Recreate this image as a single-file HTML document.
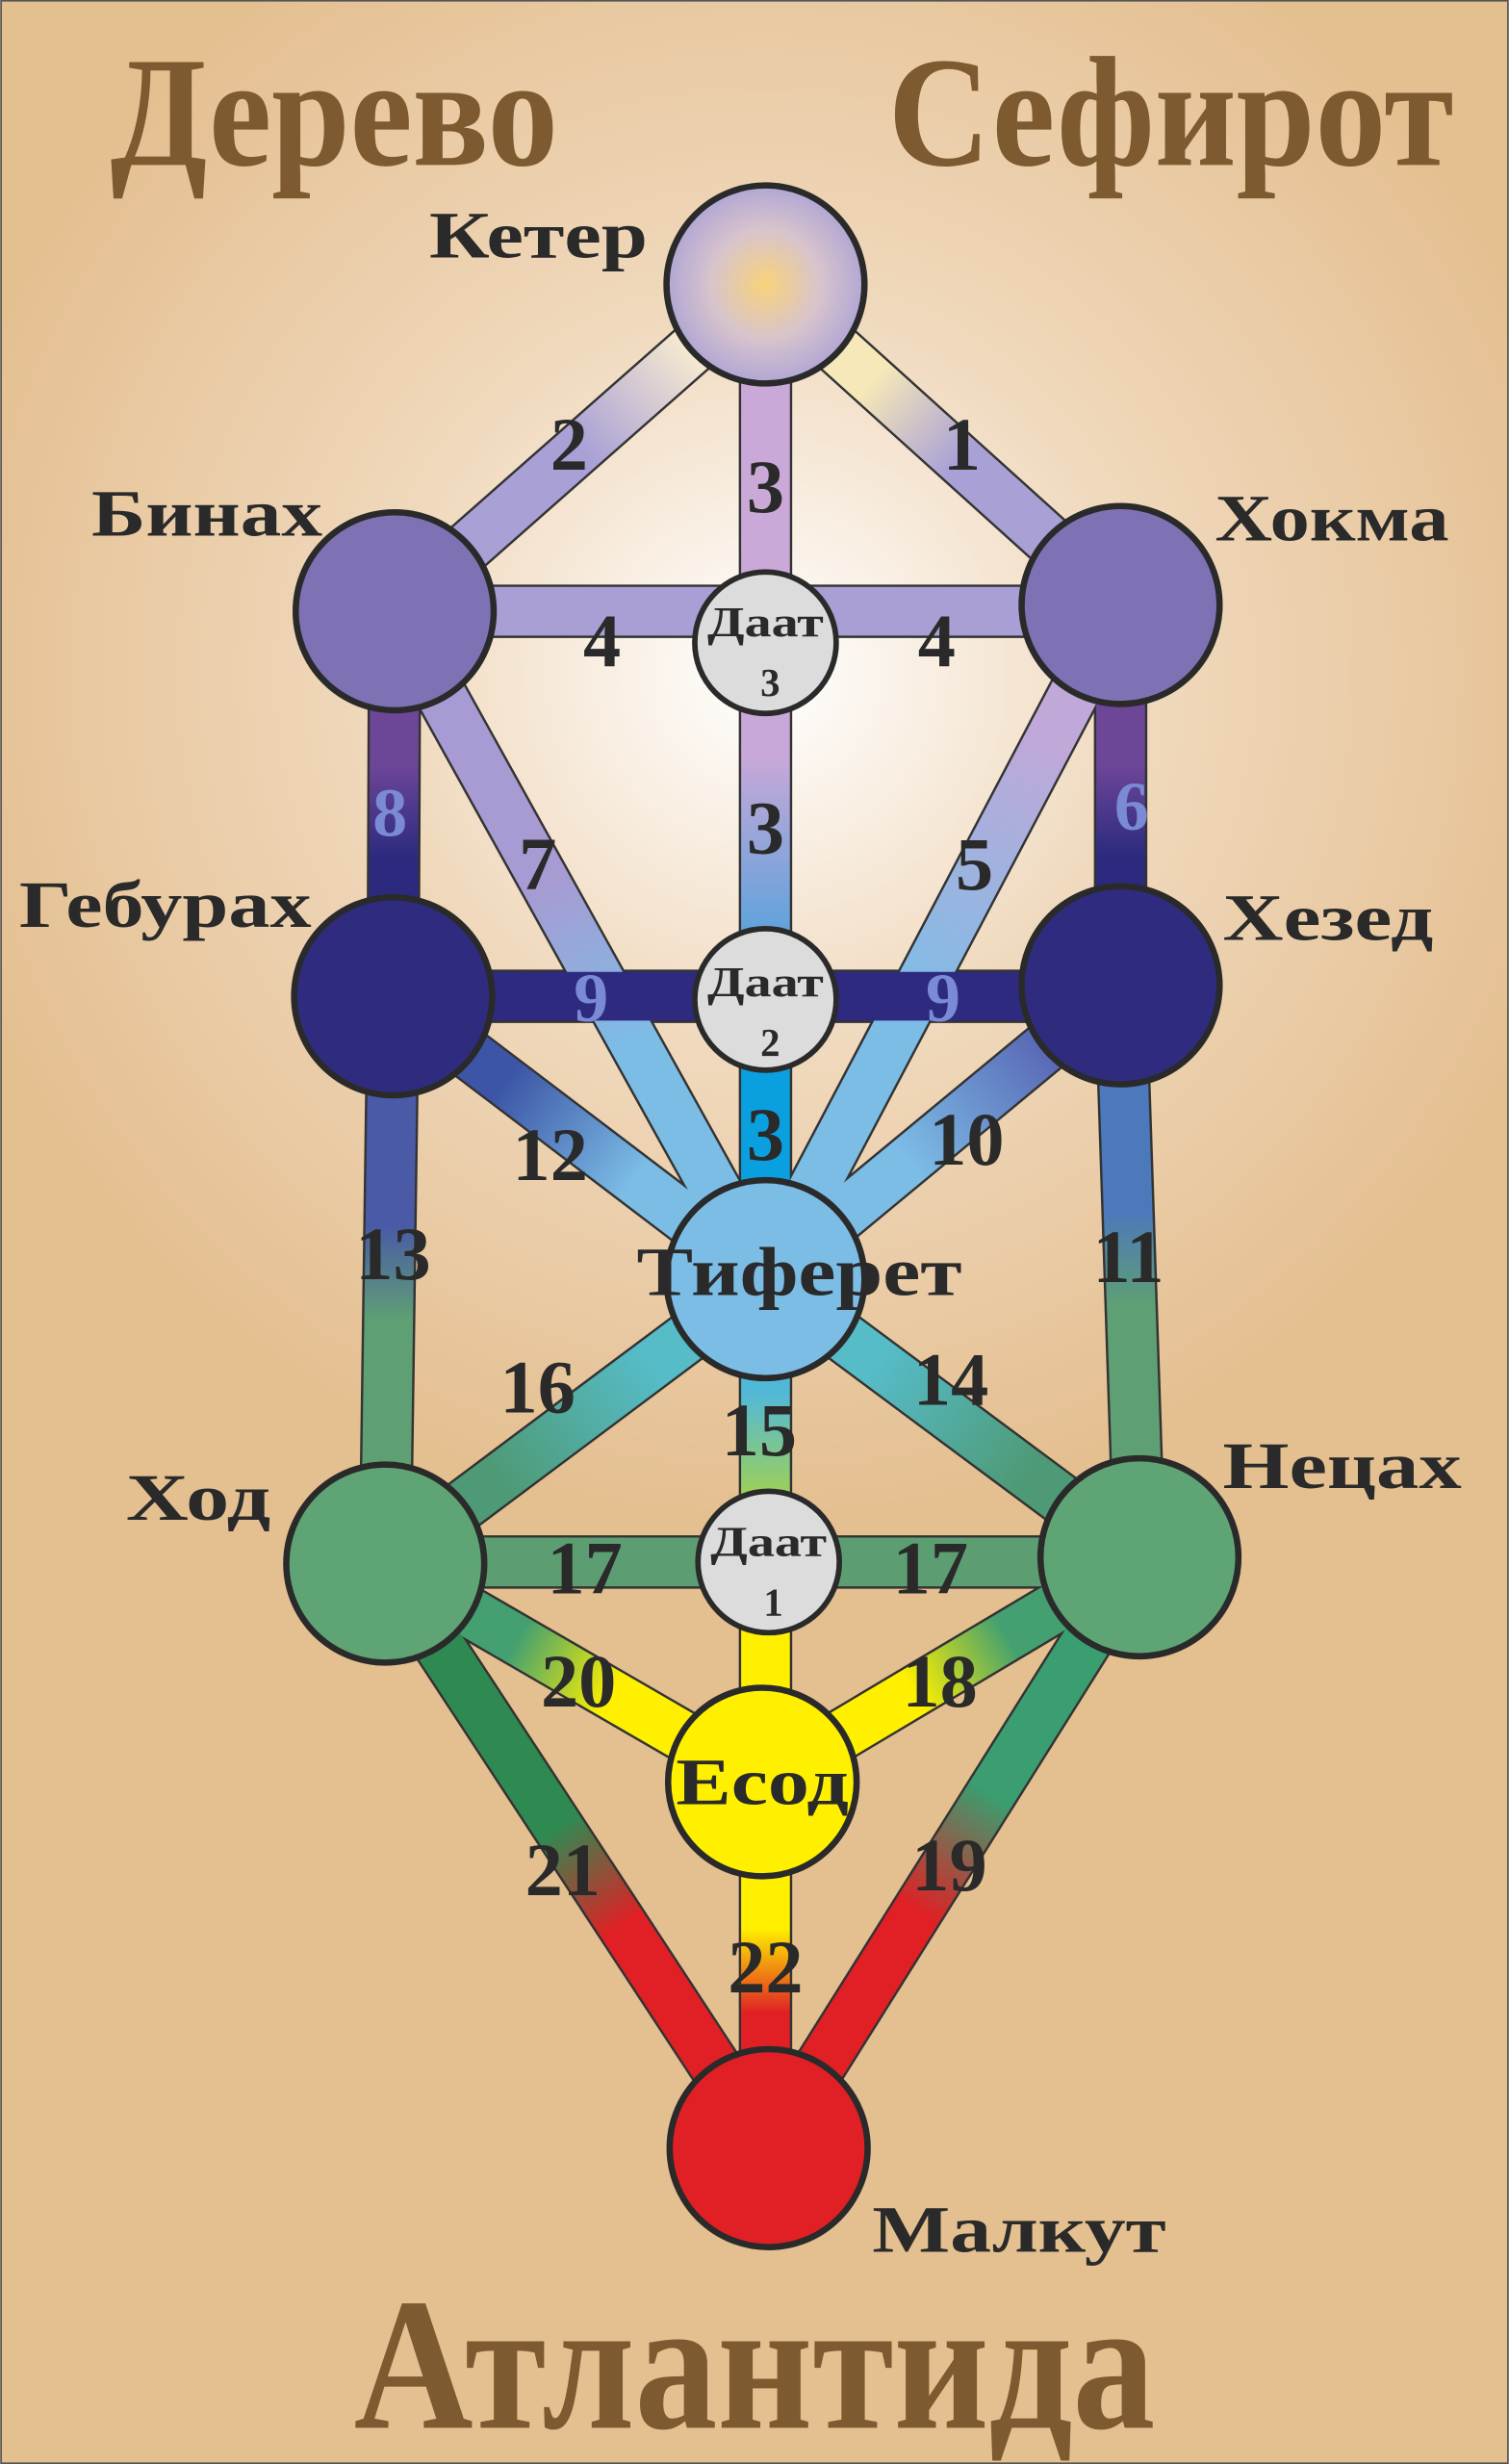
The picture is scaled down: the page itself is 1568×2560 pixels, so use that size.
<!DOCTYPE html>
<html><head><meta charset="utf-8"><style>
html,body{margin:0;padding:0;background:#e4bf90}
svg{display:block}
text{font-family:"Liberation Serif","DejaVu Serif",serif;font-weight:bold}
</style></head><body>
<svg width="1568" height="2560" viewBox="0 0 960 1568" xmlns="http://www.w3.org/2000/svg">
<defs>
<radialGradient id="bg" cx="487" cy="430" r="600" gradientUnits="userSpaceOnUse">
<stop offset="0" stop-color="#ffffff"/><stop offset="0.4" stop-color="#f0d9bd"/><stop offset="0.9" stop-color="#e4bf90"/>
</radialGradient>
<radialGradient id="keter" cx="0.5" cy="0.5" r="0.55">
<stop offset="0" stop-color="#f8d27a"/><stop offset="0.5" stop-color="#d8c4cc"/><stop offset="1" stop-color="#a8a0d6"/>
</radialGradient>
<linearGradient id="g2" x1="487" y1="181" x2="251" y2="389" gradientUnits="userSpaceOnUse"><stop offset="0.2" stop-color="#f6ead0"/><stop offset="0.5" stop-color="#a9a0d6"/></linearGradient>
<linearGradient id="g1" x1="487" y1="181" x2="713" y2="385" gradientUnits="userSpaceOnUse"><stop offset="0.3" stop-color="#f6e8b8"/><stop offset="0.55" stop-color="#a9a0d6"/></linearGradient>
<linearGradient id="g8" x1="0" y1="450" x2="0" y2="570" gradientUnits="userSpaceOnUse"><stop offset="0.3" stop-color="#6e4698"/><stop offset="0.8" stop-color="#2b2a7e"/></linearGradient>
<linearGradient id="g7" x1="251" y1="389" x2="487" y2="814" gradientUnits="userSpaceOnUse"><stop offset="0.4" stop-color="#a89ad2"/><stop offset="0.65" stop-color="#7cbde6"/></linearGradient>
<linearGradient id="g5" x1="713" y1="385" x2="487" y2="814" gradientUnits="userSpaceOnUse"><stop offset="0.2" stop-color="#c0a8d8"/><stop offset="0.6" stop-color="#7cbde6"/></linearGradient>
<linearGradient id="g3b" x1="0" y1="450" x2="0" y2="600" gradientUnits="userSpaceOnUse"><stop offset="0.2" stop-color="#c8a8d8"/><stop offset="1" stop-color="#5aa2dc"/></linearGradient>
<linearGradient id="g12" x1="250" y1="634" x2="487" y2="814" gradientUnits="userSpaceOnUse"><stop offset="0.3" stop-color="#3c55a6"/><stop offset="0.65" stop-color="#7cbde6"/></linearGradient>
<linearGradient id="g10" x1="713" y1="627" x2="487" y2="814" gradientUnits="userSpaceOnUse"><stop offset="0.2" stop-color="#5866b4"/><stop offset="0.6" stop-color="#7cbde6"/></linearGradient>
<linearGradient id="g13" x1="0" y1="780" x2="0" y2="840" gradientUnits="userSpaceOnUse"><stop offset="0" stop-color="#4a5aa6"/><stop offset="1" stop-color="#5e9f74"/></linearGradient>
<linearGradient id="g11" x1="0" y1="770" x2="0" y2="830" gradientUnits="userSpaceOnUse"><stop offset="0" stop-color="#4c78bc"/><stop offset="1" stop-color="#5e9f74"/></linearGradient>
<linearGradient id="g16" x1="487" y1="814" x2="245" y2="995" gradientUnits="userSpaceOnUse"><stop offset="0.3" stop-color="#56bcc8"/><stop offset="0.7" stop-color="#4e9a76"/></linearGradient>
<linearGradient id="g14" x1="487" y1="814" x2="725" y2="991" gradientUnits="userSpaceOnUse"><stop offset="0.3" stop-color="#56bcc8"/><stop offset="0.7" stop-color="#4e9a76"/></linearGradient>
<linearGradient id="g15" x1="0" y1="870" x2="0" y2="950" gradientUnits="userSpaceOnUse"><stop offset="0.2" stop-color="#52b8d8"/><stop offset="1" stop-color="#9cd05a"/></linearGradient>
<linearGradient id="g20" x1="245" y1="995" x2="485" y2="1134" gradientUnits="userSpaceOnUse"><stop offset="0.35" stop-color="#44a070"/><stop offset="0.6" stop-color="#fff000"/></linearGradient>
<linearGradient id="g18" x1="725" y1="991" x2="485" y2="1134" gradientUnits="userSpaceOnUse"><stop offset="0.35" stop-color="#44a070"/><stop offset="0.6" stop-color="#fff000"/></linearGradient>
<linearGradient id="g21" x1="245" y1="995" x2="489" y2="1367" gradientUnits="userSpaceOnUse"><stop offset="0.45" stop-color="#2f8a52"/><stop offset="0.62" stop-color="#e02024"/></linearGradient>
<linearGradient id="g19" x1="725" y1="991" x2="489" y2="1367" gradientUnits="userSpaceOnUse"><stop offset="0.4" stop-color="#3a9e70"/><stop offset="0.6" stop-color="#e02024"/></linearGradient>
<linearGradient id="g22" x1="0" y1="1200" x2="0" y2="1290" gradientUnits="userSpaceOnUse"><stop offset="0.3" stop-color="#fff000"/><stop offset="0.9" stop-color="#e02024"/></linearGradient>
</defs>
<rect x="0" y="0" width="960" height="1568" fill="url(#bg)"/>
<rect x="0.5" y="0.5" width="959" height="1567" fill="none" stroke="#555" stroke-width="1"/>

<text x="70" y="105" font-size="100" fill="#7d5a2f" textLength="285" lengthAdjust="spacingAndGlyphs">Дерево</text>
<text x="565" y="105" font-size="100" fill="#7d5a2f" textLength="360" lengthAdjust="spacingAndGlyphs">Сефирот</text>
<text x="225" y="1545" font-size="120" fill="#7d5a2f" textLength="510" lengthAdjust="spacingAndGlyphs">Атлантида</text>

<g stroke-linecap="butt">
<g stroke="#333" stroke-width="34">
<line x1="487" y1="181" x2="251" y2="389"/><line x1="487" y1="181" x2="713" y2="385"/>
<line x1="487" y1="181" x2="487" y2="994"/>
<line x1="251" y1="389" x2="713" y2="389"/>
<line x1="251" y1="389" x2="250" y2="634"/><line x1="713" y1="385" x2="713" y2="627"/>
<line x1="251" y1="389" x2="487" y2="814"/><line x1="713" y1="385" x2="487" y2="814"/>
<line x1="250" y1="634" x2="713" y2="634"/>
<line x1="250" y1="634" x2="487" y2="814"/><line x1="713" y1="627" x2="487" y2="814"/>
<line x1="250" y1="634" x2="245" y2="995"/><line x1="713" y1="627" x2="725" y2="991"/>
<line x1="487" y1="814" x2="245" y2="995"/><line x1="487" y1="814" x2="725" y2="991"/>
<line x1="245" y1="994" x2="725" y2="994"/>
<line x1="487" y1="994" x2="487" y2="1367"/>
<line x1="245" y1="995" x2="485" y2="1134"/><line x1="725" y1="991" x2="485" y2="1134"/>
<line x1="245" y1="995" x2="489" y2="1367"/><line x1="725" y1="991" x2="489" y2="1367"/>
</g>
<g stroke-width="31">
<line x1="487" y1="181" x2="251" y2="389" stroke="url(#g2)"/>
<line x1="487" y1="181" x2="713" y2="385" stroke="url(#g1)"/>
<line x1="487" y1="181" x2="487" y2="409" stroke="#caa8d8"/>
<line x1="487" y1="409" x2="487" y2="636" stroke="url(#g3b)"/>
<line x1="487" y1="636" x2="487" y2="814" stroke="#0aa0e0"/>
<line x1="487" y1="814" x2="487" y2="994" stroke="url(#g15)"/>
<line x1="251" y1="389" x2="713" y2="389" stroke="#a99fd5"/>
<line x1="251" y1="389" x2="250" y2="634" stroke="url(#g8)"/>
<line x1="713" y1="385" x2="713" y2="627" stroke="url(#g8)"/>
<line x1="251" y1="389" x2="487" y2="814" stroke="url(#g7)"/>
<line x1="713" y1="385" x2="487" y2="814" stroke="url(#g5)"/>
<line x1="250" y1="634" x2="713" y2="634" stroke="#2e2a80"/>
<line x1="250" y1="634" x2="487" y2="814" stroke="url(#g12)"/>
<line x1="713" y1="627" x2="487" y2="814" stroke="url(#g10)"/>
<line x1="250" y1="634" x2="245" y2="995" stroke="url(#g13)"/>
<line x1="713" y1="627" x2="725" y2="991" stroke="url(#g11)"/>
<line x1="487" y1="814" x2="245" y2="995" stroke="url(#g16)"/>
<line x1="487" y1="814" x2="725" y2="991" stroke="url(#g14)"/>
<line x1="245" y1="994" x2="725" y2="994" stroke="#5c9e72"/>
<line x1="487" y1="994" x2="487" y2="1134" stroke="#fff000"/>
<line x1="487" y1="1134" x2="487" y2="1367" stroke="url(#g22)"/>
<line x1="245" y1="995" x2="485" y2="1134" stroke="url(#g20)"/>
<line x1="725" y1="991" x2="485" y2="1134" stroke="url(#g18)"/>
<line x1="245" y1="995" x2="489" y2="1367" stroke="url(#g21)"/>
<line x1="725" y1="991" x2="489" y2="1367" stroke="url(#g19)"/>
</g>
</g>

<g stroke="#2a2a2a" stroke-width="4">
<circle cx="487" cy="181" r="63" fill="url(#keter)"/>
<circle cx="251" cy="389" r="63" fill="#7f72b4"/>
<circle cx="713" cy="385" r="63" fill="#7f72b4"/>
<circle cx="250" cy="634" r="63" fill="#2f2c80"/>
<circle cx="713" cy="627" r="63" fill="#2f2c80"/>
<circle cx="487" cy="814" r="63" fill="#7cbde6"/>
<circle cx="245" cy="995" r="63" fill="#5fa474"/>
<circle cx="725" cy="991" r="63" fill="#5fa474"/>
<circle cx="485" cy="1134" r="60" fill="#fff000"/>
<circle cx="489" cy="1367" r="63" fill="#e02024"/>
<circle cx="487" cy="409" r="45" fill="#dcdcdc" stroke-width="3.5"/>
<circle cx="487" cy="636" r="45" fill="#dcdcdc" stroke-width="3.5"/>
<circle cx="489" cy="994" r="45" fill="#dcdcdc" stroke-width="3.5"/>
</g>

<g font-size="27" fill="#2a2a2a" text-anchor="middle">
<text x="487" y="405" textLength="74" lengthAdjust="spacingAndGlyphs">Даат</text><text x="490" y="443" font-size="25">3</text>
<text x="487" y="634" textLength="74" lengthAdjust="spacingAndGlyphs">Даат</text><text x="490" y="672" font-size="25">2</text>
<text x="489" y="990" textLength="74" lengthAdjust="spacingAndGlyphs">Даат</text><text x="492" y="1028" font-size="25">1</text>
</g>
<text x="405" y="824" font-size="44" fill="#2a2a2a" textLength="207" lengthAdjust="spacingAndGlyphs">Тиферет</text>
<text x="430" y="1148" font-size="42" fill="#2a2a2a" textLength="110" lengthAdjust="spacingAndGlyphs">Есод</text>

<g font-size="42" fill="#2a2a2a">
<text x="273" y="164" textLength="139" lengthAdjust="spacingAndGlyphs">Кетер</text>
<text x="58" y="341" textLength="147" lengthAdjust="spacingAndGlyphs">Бинах</text>
<text x="773" y="344" textLength="149" lengthAdjust="spacingAndGlyphs">Хокма</text>
<text x="12" y="590" textLength="186" lengthAdjust="spacingAndGlyphs">Гебурах</text>
<text x="778" y="598" textLength="134" lengthAdjust="spacingAndGlyphs">Хезед</text>
<text x="80" y="967" textLength="92" lengthAdjust="spacingAndGlyphs">Ход</text>
<text x="778" y="947" textLength="152" lengthAdjust="spacingAndGlyphs">Нецах</text>
<text x="555" y="1433" textLength="187" lengthAdjust="spacingAndGlyphs">Малкут</text>
</g>

<g font-size="48" fill="#2a2a2a" text-anchor="middle">
<text x="362" y="299">2</text><text x="612" y="299">1</text>
<text x="487" y="326">3</text>
<text x="383" y="424">4</text><text x="596" y="424">4</text>
<text x="487" y="543">3</text>
<text x="342" y="566">7</text><text x="620" y="566">5</text>
<text x="487" y="738">3</text>
<text x="350" y="751">12</text><text x="615" y="741">10</text>
<text x="250" y="814">13</text><text x="718" y="816">11</text>
<text x="342" y="899">16</text><text x="605" y="894">14</text>
<text x="483" y="926">15</text>
<text x="372" y="1014">17</text><text x="592" y="1014">17</text>
<text x="368" y="1086">20</text><text x="598" y="1086">18</text>
<text x="358" y="1206">21</text><text x="604" y="1203">19</text>
<text x="487" y="1268">22</text>
</g>
<g font-size="44" fill="#7a8ad4" text-anchor="middle">
<text x="248" y="532">8</text><text x="720" y="528">6</text>
<text x="376" y="650">9</text><text x="600" y="650">9</text>
</g>
</svg>
</body></html>
